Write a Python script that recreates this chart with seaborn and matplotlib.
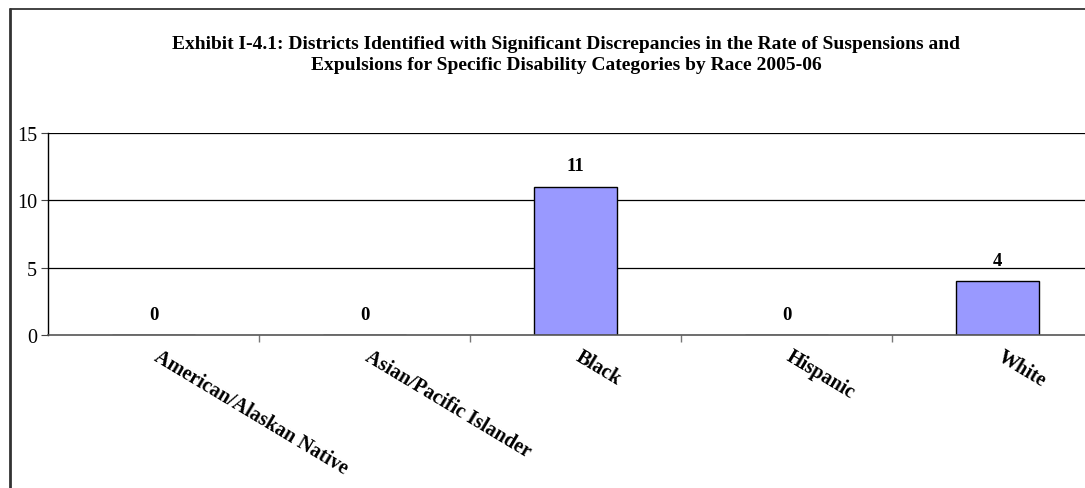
import matplotlib
matplotlib.use("Agg")
import matplotlib.pyplot as plt
import seaborn as sns
import pandas as pd
from matplotlib.lines import Line2D

# Districts flagged per race group, 2005-06
categories = ["American/Alaskan Native", "Asian/Pacific Islander", "Black", "Hispanic", "White"]
districts = [0, 0, 11, 0, 4]
y_ticks = [0, 5, 10, 15]
title_text = ("Exhibit I-4.1: Districts Identified with Significant Discrepancies in the Rate of Suspensions and\n"
              "Expulsions for Specific Disability Categories by Race 2005-06")

sns.set_theme(style="white")
plt.rcParams["font.family"] = ["Liberation Serif", "DejaVu Serif"]
plt.rcParams["text.color"] = "black"
plt.rcParams["ytick.color"] = "black"
plt.rcParams["ytick.labelcolor"] = "black"

df = pd.DataFrame({"race": categories, "count": districts})

fig = plt.figure(figsize=(10.85, 4.89), dpi=100)
ax = fig.add_axes([48 / 1085, 1 - 336 / 489, 1055 / 1085, 202 / 489])

sns.barplot(data=df, x="race", y="count", color="#9999FF", edgecolor="black",
            linewidth=1.0, width=0.39, saturation=1, ax=ax)

ax.set_ylim(0, 15)
ax.set_xlim(-0.5, len(categories) - 0.5)
ax.set_yticks(y_ticks)
ax.set_yticklabels([str(t) for t in y_ticks], fontsize=14.5)
ax.tick_params(axis="y", which="major", direction="out", length=5, width=0.8,
               color="#444444", left=True, pad=3, labelcolor="black")
for t in y_ticks[1:]:
    ax.axhline(t, color="black", linewidth=0.9, zorder=0)

# Category separators on the x axis
ax.set_xticks([i + 0.5 for i in range(len(categories) - 1)], minor=True)
ax.set_xticks([])
ax.tick_params(axis="x", which="minor", direction="out", length=5, width=1,
               color="#777777", bottom=True)
ax.set_xlabel("")
ax.set_ylabel("")

for side in ["top", "right"]:
    ax.spines[side].set_visible(False)
ax.spines["left"].set_color("black")
ax.spines["left"].set_linewidth(1.0)
ax.spines["bottom"].set_color("#555555")
ax.spines["bottom"].set_linewidth(1.2)

# Rotated category labels, starting at each category centre
for i, name in enumerate(categories):
    ax.annotate(name, xy=(i, 0), xycoords=("data", "data"), xytext=(5, -8),
                textcoords="offset points", rotation=-31, rotation_mode="anchor",
                ha="left", va="top", fontsize=14.5, fontweight="bold", color="black")

# Value labels above bars
for i, v in enumerate(districts):
    ax.annotate(str(v), xy=(i, v), xytext=(0, 9), textcoords="offset points",
                ha="center", va="bottom", fontsize=13.5, fontweight="bold", color="black")

fig.text(0.522, 1 - 55 / 489, title_text, ha="center", va="center",
         fontsize=14, fontweight="bold", linespacing=1.3, color="black")

# Outer chart frame (top and left edges)
fig.add_artist(Line2D([10 / 1085, 1.01], [1 - 10 / 489, 1 - 10 / 489],
                      transform=fig.transFigure, color="#222222", linewidth=1.2))
fig.add_artist(Line2D([10 / 1085, 10 / 1085], [1 - 10 / 489, -0.01],
                      transform=fig.transFigure, color="#333333", linewidth=2.0))

fig.savefig("out.png", dpi=100)
